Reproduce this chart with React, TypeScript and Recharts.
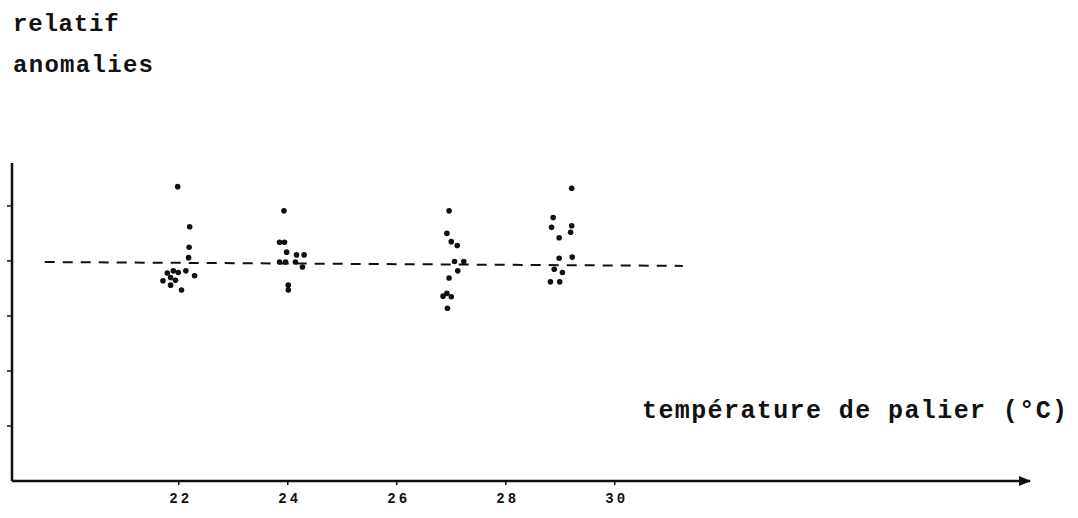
import React from 'react';
import { ScatterChart, Scatter, XAxis, YAxis, ReferenceLine } from 'recharts';

// measurements grouped by plateau temperature (°C) -> relative anomaly
const near22 = [
  { t: 21.98, y: 5.35 }, { t: 22.2, y: 4.62 }, { t: 22.19, y: 4.25 }, { t: 22.18, y: 4.06 },
  { t: 22.13, y: 3.82 }, { t: 21.9, y: 3.82 }, { t: 21.99, y: 3.79 }, { t: 21.79, y: 3.78 },
  { t: 22.29, y: 3.73 }, { t: 21.85, y: 3.7 }, { t: 21.94, y: 3.65 }, { t: 21.71, y: 3.64 },
  { t: 21.85, y: 3.56 }, { t: 22.05, y: 3.47 },
];
const near24 = [
  { t: 23.93, y: 4.91 }, { t: 23.85, y: 4.34 }, { t: 23.94, y: 4.34 }, { t: 23.98, y: 4.16 },
  { t: 24.16, y: 4.11 }, { t: 24.3, y: 4.11 }, { t: 23.85, y: 3.98 }, { t: 23.96, y: 3.98 },
  { t: 24.14, y: 3.98 }, { t: 24.27, y: 3.89 }, { t: 24.01, y: 3.56 }, { t: 24.01, y: 3.47 },
];
const near27 = [
  { t: 26.96, y: 4.91 }, { t: 26.92, y: 4.5 }, { t: 27.0, y: 4.35 }, { t: 27.11, y: 4.28 },
  { t: 27.06, y: 3.99 }, { t: 27.23, y: 3.99 }, { t: 27.12, y: 3.82 }, { t: 26.96, y: 3.69 },
  { t: 26.85, y: 3.36 }, { t: 26.92, y: 3.41 }, { t: 27.0, y: 3.35 }, { t: 26.93, y: 3.14 },
];
const near29 = [
  { t: 29.21, y: 5.32 }, { t: 28.87, y: 4.79 }, { t: 28.84, y: 4.61 }, { t: 29.21, y: 4.64 },
  { t: 29.19, y: 4.52 }, { t: 28.98, y: 4.42 }, { t: 28.98, y: 4.05 }, { t: 29.22, y: 4.07 },
  { t: 28.89, y: 3.85 }, { t: 29.04, y: 3.79 }, { t: 28.82, y: 3.62 }, { t: 28.99, y: 3.62 },
];

const xTicks = [22, 24, 26, 28, 30];
const yTicks = [1, 2, 3, 4, 5];
// mean level, drifting slightly downward
const meanLine = [
  { t: 19.54, y: 3.98 },
  { t: 31.25, y: 3.91 },
];

const ink = '#111';
const mono = '"Liberation Mono", "DejaVu Sans Mono", monospace';

const Dot = (props: any) => <circle cx={props.cx} cy={props.cy} r={2.8} fill={ink} />;

const XTick = (props: any) => {
  const { x, y, payload } = props;
  return (
    <text x={x + 2} y={y + 16} textAnchor="middle" fontFamily={mono} fontWeight="bold" fontSize={14} letterSpacing={3} fill={ink}>
      {payload.value}
    </text>
  );
};

export default function App() {
  return (
    <div style={{ position: 'absolute', left: 0, top: 0, width: 1078, height: 518, background: '#fff' }}>
      <svg width={0} height={0} style={{ position: 'absolute' }}>
        <defs>
          <marker id="axis-arrow" viewBox="0 0 10 8" refX={9} refY={4} markerWidth={5} markerHeight={4} orient="auto">
            <path d="M0,0 L10,4 L0,8 z" fill={ink} />
          </marker>
        </defs>
      </svg>
      <ScatterChart width={1078} height={518} margin={{ top: 163, right: 48, bottom: 0, left: 4 }}>
        <XAxis
          type="number"
          dataKey="t"
          domain={[18.94, 37.62]}
          ticks={xTicks}
          height={37}
          allowDataOverflow
          axisLine={{ stroke: ink, strokeWidth: 2.5, markerEnd: 'url(#axis-arrow)' }}
          tickLine={{ stroke: ink, strokeWidth: 1.5 }}
          tickSize={4}
          tick={<XTick />}
        />
        <YAxis
          type="number"
          dataKey="y"
          domain={[0, 5.78]}
          ticks={yTicks}
          width={8}
          allowDataOverflow
          axisLine={{ stroke: ink, strokeWidth: 2.5 }}
          tickLine={{ stroke: ink, strokeWidth: 1.5 }}
          tickSize={5}
          tick={() => <g />}
        />
        <ReferenceLine
          segment={meanLine.map((p) => ({ x: p.t, y: p.y }))}
          stroke={ink}
          strokeWidth={2}
          strokeDasharray="10 8"
        />
        <Scatter data={near22} shape={Dot} isAnimationActive={false} />
        <Scatter data={near24} shape={Dot} isAnimationActive={false} />
        <Scatter data={near27} shape={Dot} isAnimationActive={false} />
        <Scatter data={near29} shape={Dot} isAnimationActive={false} />
      </ScatterChart>
      <svg width={1078} height={518} style={{ position: 'absolute', left: 0, top: 0, pointerEvents: 'none' }}>
        <g fontFamily={mono} fontWeight="bold" fill={ink}>
          <text x={13} y={31} fontSize={24} letterSpacing={0.8}>relatif</text>
          <text x={13} y={72} fontSize={24} letterSpacing={1.3}>anomalies</text>
          <text x={642} y={418} fontSize={25} letterSpacing={1.4}>température de palier (°C)</text>
        </g>
      </svg>
    </div>
  );
}
